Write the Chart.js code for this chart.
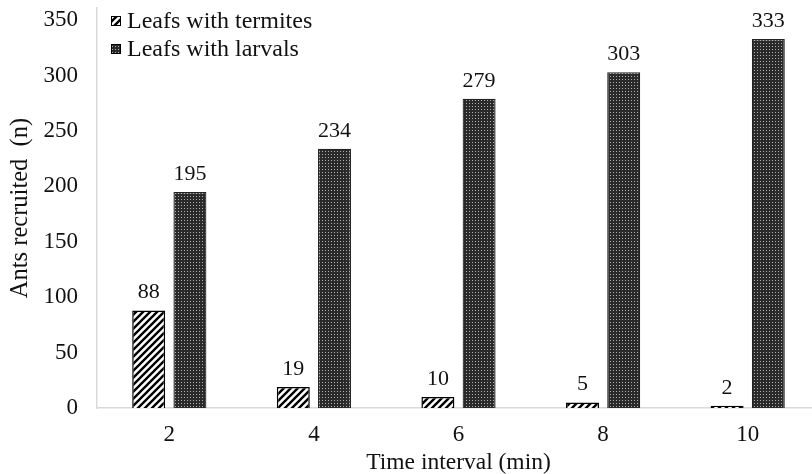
<!DOCTYPE html>
<html>
<head>
<meta charset="utf-8">
<script src="https://cdn.jsdelivr.net/npm/chart.js@4"></script>
<style>
  html, body { margin: 0; padding: 0; background: #fff; overflow: hidden; }
  #wrap { width: 812px; height: 474px; overflow: hidden; }
</style>
</head>
<body>
<div id="wrap"><canvas id="antsChart" width="822" height="474"></canvas></div>
<script>
// chart data
const timeLabels = ['2', '4', '6', '8', '10'];
const termiteCounts = [88, 19, 10, 5, 2];
const larvalCounts = [195, 234, 279, 303, 333];
const yTicks = [0, 50, 100, 150, 200, 250, 300, 350];
const seriesNames = ['Leafs with termites', 'Leafs with larvals'];

const serif = "'Liberation Serif', 'Times New Roman', serif";
const textColor = '#111';
const axisColor = '#d9d9d9';

// diagonal hatch for the termite bars
function hatchPattern() {
  let c = document.createElement('canvas');
  c.width = 7; c.height = 7;
  let g = c.getContext('2d');
  g.fillStyle = '#fff';
  g.fillRect(0, 0, 7, 7);
  g.strokeStyle = '#000';
  g.lineWidth = 2.4;
  g.beginPath();
  g.moveTo(-1, 8); g.lineTo(8, -1);
  g.moveTo(-4.5, 4.5); g.lineTo(4.5, -4.5);
  g.moveTo(2.5, 11.5); g.lineTo(11.5, 2.5);
  g.stroke();
  return g.createPattern(c, 'repeat');
}

// fine dotted dark fill for the larval bars
function dotPattern() {
  let c = document.createElement('canvas');
  c.width = 3; c.height = 3;
  let g = c.getContext('2d');
  g.fillStyle = '#2a2a2a';
  g.fillRect(0, 0, 3, 3);
  g.fillStyle = '#b0b0b0';
  g.fillRect(1, 1, 1, 1);
  return g.createPattern(c, 'repeat');
}

const hatch = hatchPattern();
const dots = dotPattern();

const valueLabels = {
  id: 'valueLabels',
  afterDatasetsDraw(chart) {
    let ctx = chart.ctx;
    ctx.save();
    ctx.font = '22px ' + serif;
    ctx.fillStyle = textColor;
    ctx.textAlign = 'center';
    ctx.textBaseline = 'alphabetic';
    chart.data.datasets.forEach((ds, i) => {
      chart.getDatasetMeta(i).data.forEach((bar, j) => {
        ctx.fillText(ds.data[j], bar.x, bar.y - 12);
      });
    });
    ctx.restore();
  }
};

const innerLegend = {
  id: 'innerLegend',
  afterDraw(chart) {
    let ctx = chart.ctx;
    let fills = [hatch, dots];
    ctx.save();
    ctx.font = '24px ' + serif;
    ctx.textBaseline = 'middle';
    seriesNames.forEach((name, i) => {
      let y = 21 + i * 28;
      ctx.fillStyle = fills[i];
      ctx.fillRect(111, y - 5, 10, 10);
      ctx.strokeStyle = '#000';
      ctx.lineWidth = 1;
      ctx.strokeRect(111.5, y - 4.5, 9, 9);
      ctx.fillStyle = textColor;
      ctx.fillText(name, 127, y + 1);
    });
    ctx.restore();
  }
};

new Chart(document.getElementById('antsChart'), {
  type: 'bar',
  data: {
    labels: timeLabels,
    datasets: [{
      label: seriesNames[0],
      data: termiteCounts,
      backgroundColor: hatch,
      borderColor: '#000',
      borderWidth: 1.5
    }, {
      label: seriesNames[1],
      data: larvalCounts,
      backgroundColor: dots,
      borderColor: '#222',
      borderWidth: 1.2
    }]
  },
  options: {
    responsive: false,
    animation: false,
    devicePixelRatio: 1,
    categoryPercentage: 0.57,
    barPercentage: 0.8,
    layout: { padding: { top: 8, right: 2, bottom: 0, left: 0 } },
    plugins: {
      legend: { display: false },
      tooltip: { enabled: false }
    },
    scales: {
      x: {
        offset: true,
        afterFit: scale => { scale.height = 66; scale.paddingLeft = 0; scale.paddingRight = 0; },
        grid: { display: false, drawTicks: false },
        border: { color: axisColor, width: 1.5 },
        ticks: { color: textColor, font: { family: serif, size: 23 }, padding: 13 },
        title: {
          display: true,
          text: 'Time interval (min)',
          color: textColor,
          font: { family: serif, size: 23.5 },
          padding: { top: 0, bottom: -3 }
        }
      },
      y: {
        min: 0,
        max: 361,
        afterBuildTicks: scale => { scale.ticks = yTicks.map(v => ({ value: v })); },
        afterFit: scale => { scale.width = 97; scale.paddingTop = 0; scale.paddingBottom = 0; },
        grid: { display: false, drawTicks: false },
        border: { color: axisColor, width: 1.5 },
        ticks: { color: textColor, font: { family: serif, size: 23 }, padding: 19 },
        title: {
          display: true,
          text: 'Ants recruited  (n)',
          color: textColor,
          font: { family: serif, size: 24.5 },
          padding: { top: 6, bottom: 0 }
        }
      }
    }
  },
  plugins: [valueLabels, innerLegend]
});
</script>
</body>
</html>
